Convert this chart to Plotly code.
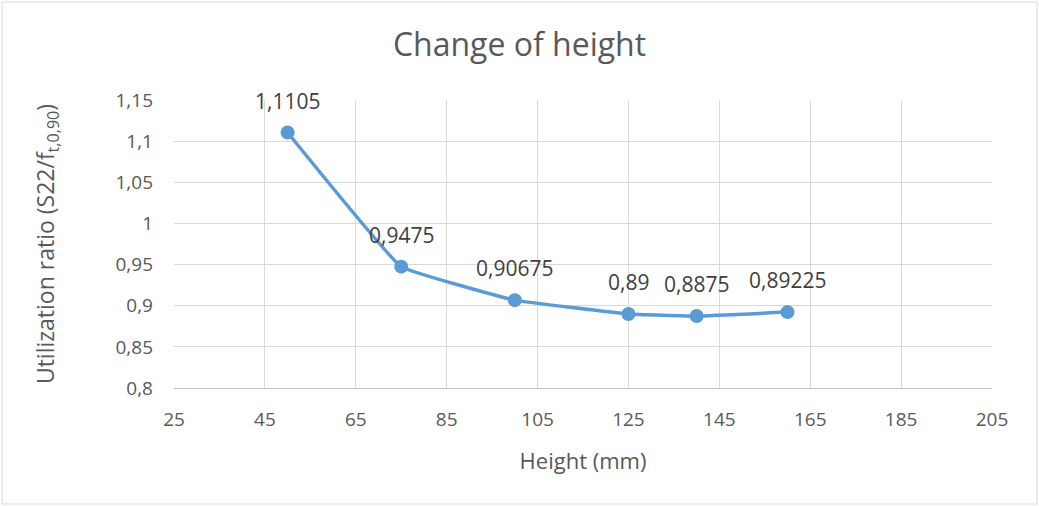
import plotly.graph_objects as go

# Beam height (mm) and the resulting utilization ratio
height_mm = [50, 75, 100, 125, 140, 160]
utilization = [1.1105, 0.9475, 0.90675, 0.89, 0.8875, 0.89225]
value_labels = [str(v).replace(".", ",") for v in utilization]

x_ticks = [25, 45, 65, 85, 105, 125, 145, 165, 185, 205]
y_ticks = [0.8, 0.85, 0.9, 0.95, 1.0, 1.05, 1.1, 1.15]

FONT = "Open Sans"
GREY = "#595959"
BLUE = "#5b9bd5"

fig = go.Figure()
fig.add_trace(go.Scatter(
    x=height_mm,
    y=utilization,
    mode="lines+markers",
    line=dict(color=BLUE, width=3.5, shape="spline", smoothing=0.25),
    marker=dict(color=BLUE, size=14),
    hoverinfo="skip",
    showlegend=False,
))

for xv, yv, txt in zip(height_mm, utilization, value_labels):
    fig.add_annotation(
        x=xv, y=yv, text=txt, showarrow=False,
        yshift=32, font=dict(family=FONT, size=21, color="#404040"),
    )

fig.update_layout(
    width=1039, height=506,
    margin=dict(l=174, r=47, t=100, b=118),
    paper_bgcolor="white", plot_bgcolor="white",
    separators=",.",
    font=dict(family=FONT, color=GREY),
    title=dict(
        text="Change of height",
        x=0.5, xanchor="center", xref="container",
        y=1 - 45 / 506, yanchor="middle", yref="container",
        font=dict(family=FONT, size=32, color=GREY),
    ),
    xaxis=dict(
        range=[25, 205], tickvals=x_ticks,
        showgrid=True, gridcolor="#d9d9d9", gridwidth=1,
        zeroline=False, showline=True, linecolor="#bfbfbf", linewidth=1,
        ticks="", tickfont=dict(family=FONT, size=19, color=GREY),
        ticklabelstandoff=14,
        title=dict(text="Height (mm)", font=dict(family=FONT, size=22, color=GREY), standoff=22),
    ),
    yaxis=dict(
        range=[0.8, 1.15], tickvals=y_ticks,
        showgrid=True, gridcolor="#d9d9d9", gridwidth=1,
        zeroline=False, showline=False,
        ticks="", tickfont=dict(family=FONT, size=19, color=GREY),
        ticklabelstandoff=20,
        title=dict(text="Utilization ratio (S22/f<sub>t,0,90</sub>)",
                   font=dict(family=FONT, size=23, color=GREY), standoff=54),
    ),
    shapes=[dict(type="rect", xref="paper", yref="paper",
                 x0=-172/818, x1=1+45/818, y0=-116/288, y1=1+98/288,
                 line=dict(color="#d9d9d9", width=1))],
)

fig.write_html("out.html")
